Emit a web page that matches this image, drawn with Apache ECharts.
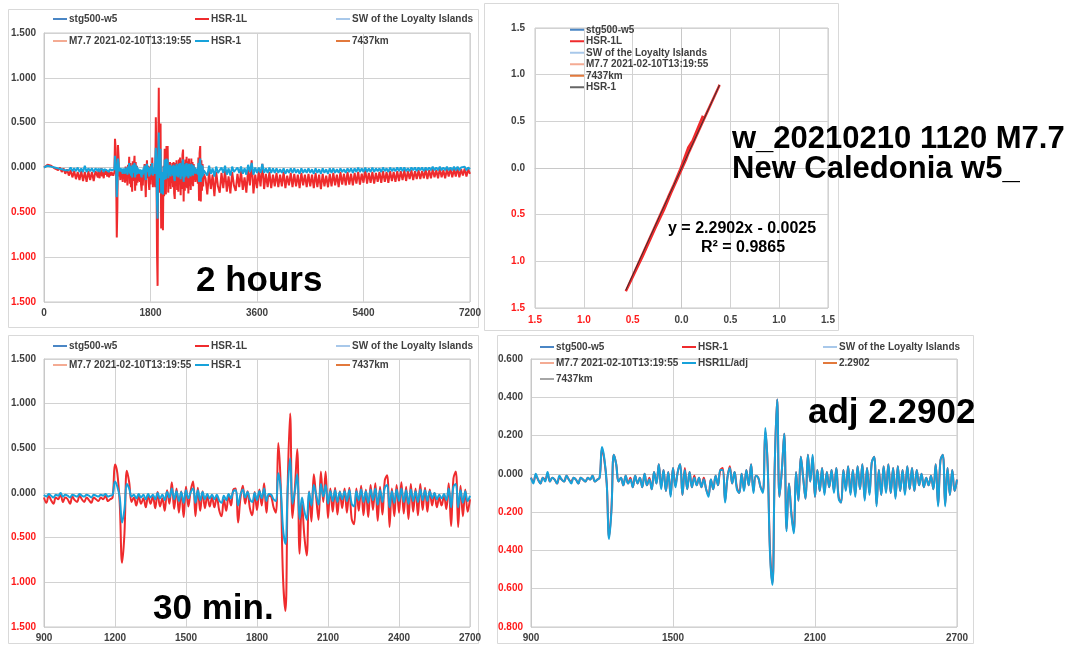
<!DOCTYPE html>
<html>
<head>
<meta charset="utf-8">
<title>w_20210210 1120 M7.7 New Caledonia</title>
<script src="https://cdn.jsdelivr.net/npm/echarts@6/dist/echarts.min.js"></script>
<style>
html, body { margin:0; padding:0; background:#fff; }
#quake-chart { width:1067px; height:646px; }
</style>
</head>
<body>
<div id="quake-chart"></div>
<script>
// 30 min window: 900 - 2700 s, one value every 10 s
var winStart = 900, winStep = 10;
var hsr1 = [
    -0.02,-0.04,-0.01,-0.03,-0.05,-0.02,-0.03,0.00,-0.04,-0.02,-0.03,-0.05,-0.02,-0.03,-0.04,-0.01,-0.03,-0.04,-0.02,-0.03,-0.05,-0.02,-0.03,-0.04,-0.02,-0.03,-0.01,-0.04,-0.03,-0.02,
    0.13,0.07,-0.05,-0.33,-0.18,0.10,0.05,-0.04,
    -0.02,-0.06,-0.01,-0.05,-0.02,-0.07,-0.01,-0.05,-0.02,-0.07,
    0.00,-0.06,-0.02,-0.08,0.01,-0.05,0.05,-0.07,0.02,-0.09,
    0.01,-0.11,0.03,-0.06,0.01,0.05,-0.11,0.03,-0.08,0.01,
    -0.07,-0.01,-0.06,-0.02,-0.07,-0.02,-0.08,-0.11,-0.03,-0.08,
    -0.01,-0.06,0.02,0.03,-0.14,-0.02,0.04,-0.05,0.01,-0.07,
    -0.10,0.00,-0.08,0.02,-0.06,0.05,-0.09,-0.01,
    -0.02,-0.07,-0.09,0.22,0.05,-0.40,-0.57,0.05,0.39,-0.12,0.02,0.21,-0.29,-0.05,-0.20,-0.30,0.01,-0.14,0.09,-0.02,-0.13,0.10,-0.04,0.09,-0.12,
    0.02,-0.09,0.03,-0.10,0.01,-0.07,0.02,-0.09,0.03,-0.12,
    -0.15,0.02,-0.08,0.04,-0.10,0.02,-0.11,0.04,-0.08,0.05,
    -0.13,0.03,-0.10,0.06,0.09,-0.16,0.02,-0.11,0.04,-0.09,
    0.05,-0.10,0.03,-0.12,0.04,-0.09,0.02,-0.10,0.04,-0.08,
    0.03,-0.09,0.02,-0.06,0.00,-0.07,-0.02,-0.06,-0.01,-0.08,
    0.05,-0.16,0.07,0.10,-0.16,0.03,-0.11,0.02,-0.09,-0.03
];
var hsr1L = [
    -0.05,-0.11,-0.03,-0.08,-0.12,-0.05,-0.07,-0.01,-0.10,-0.05,-0.07,-0.12,-0.04,-0.08,-0.10,-0.03,-0.07,-0.10,-0.05,-0.08,-0.11,-0.05,-0.07,-0.09,-0.05,-0.07,-0.03,-0.09,-0.07,-0.05,
    0.32,0.22,-0.12,-0.78,-0.45,0.25,0.12,-0.10,
    -0.05,-0.14,-0.03,-0.12,-0.06,-0.16,-0.02,-0.12,-0.04,-0.17,
    0.01,-0.15,-0.06,-0.20,0.03,-0.12,0.12,-0.18,0.05,-0.22,
    0.02,-0.27,0.07,-0.15,0.03,0.13,-0.26,0.06,-0.20,0.02,
    -0.17,-0.03,-0.15,-0.05,-0.16,-0.04,-0.19,-0.26,-0.07,-0.20,
    -0.03,-0.14,0.04,0.05,-0.33,-0.06,0.08,-0.12,0.02,-0.17,
    -0.25,0.01,-0.19,0.04,-0.14,0.11,-0.22,-0.03,
    -0.04,-0.16,-0.22,0.56,0.10,-0.95,-1.32,0.12,0.89,-0.28,0.05,0.49,-0.68,-0.12,-0.48,-0.70,0.02,-0.32,0.21,-0.05,-0.30,0.24,-0.10,0.24,-0.28,
    0.05,-0.21,0.06,-0.24,0.02,-0.17,0.05,-0.22,0.06,-0.29,
    -0.35,0.05,-0.20,0.08,-0.25,0.04,-0.27,0.09,-0.19,0.11,
    -0.31,0.07,-0.24,0.14,0.20,-0.38,0.05,-0.26,0.09,-0.22,
    0.12,-0.23,0.07,-0.29,0.10,-0.21,0.05,-0.25,0.10,-0.19,
    0.06,-0.21,0.04,-0.14,0.00,-0.16,-0.05,-0.14,-0.03,-0.18,
    0.11,-0.37,0.16,0.24,-0.38,0.08,-0.26,0.04,-0.21,-0.07
];
var hsr1LAdj = [
    -0.02,-0.05,0.00,-0.03,-0.05,-0.02,-0.04,0.01,-0.04,-0.02,-0.03,-0.05,-0.01,-0.03,-0.04,-0.01,-0.03,-0.05,-0.02,-0.03,-0.05,-0.02,-0.03,-0.04,-0.02,-0.03,-0.01,-0.04,-0.03,-0.02,
    0.14,0.08,-0.05,-0.34,-0.19,0.10,0.05,-0.04,
    -0.02,-0.06,-0.01,-0.05,-0.03,-0.07,-0.01,-0.05,-0.02,-0.07,
    0.00,-0.06,-0.03,-0.08,0.01,-0.05,0.05,-0.08,0.02,-0.09,
    0.01,-0.12,0.03,-0.07,0.01,0.05,-0.11,0.02,-0.08,0.01,
    -0.07,-0.02,-0.06,-0.02,-0.07,-0.03,-0.08,-0.12,-0.03,-0.08,
    -0.01,-0.06,0.02,0.02,-0.15,-0.02,0.03,-0.05,0.01,-0.08,
    -0.10,0.00,-0.09,0.02,-0.06,0.05,-0.10,-0.01,
    -0.02,-0.07,-0.10,0.24,0.04,-0.42,-0.58,0.05,0.39,-0.12,0.02,0.21,-0.30,-0.05,-0.21,-0.31,0.01,-0.14,0.09,-0.02,-0.13,0.10,-0.04,0.10,-0.12,
    0.02,-0.09,0.03,-0.11,0.01,-0.07,0.02,-0.10,0.03,-0.13,
    -0.15,0.02,-0.09,0.04,-0.11,0.02,-0.12,0.04,-0.08,0.05,
    -0.14,0.03,-0.11,0.06,0.09,-0.17,0.02,-0.11,0.04,-0.10,
    0.05,-0.10,0.03,-0.13,0.04,-0.09,0.02,-0.11,0.04,-0.08,
    0.03,-0.09,0.02,-0.06,0.00,-0.07,-0.02,-0.06,-0.01,-0.08,
    0.05,-0.17,0.07,0.10,-0.17,0.03,-0.11,0.02,-0.09,-0.03
];

// rest of the 2 hours, one value every 30 s
var preStart = 0, postStart = 2730, longStep = 30;
var hsr1Pre = [0.00,0.01,0.02,0.01,0.01,0.00,0.00,0.01,-0.01,0.00,-0.02,0.00,-0.03,-0.01,-0.03,0.00,-0.04,-0.01,-0.04,0.00,-0.05,-0.01,-0.05,0.02,-0.05,-0.01,-0.04,-0.01,-0.05,-0.01];
var hsr1LPre = [0.00,0.02,0.03,0.01,0.02,0.00,-0.01,0.01,-0.03,0.00,-0.05,-0.01,-0.07,-0.02,-0.09,-0.03,-0.11,-0.04,-0.13,-0.05,-0.14,-0.04,-0.15,-0.05,-0.16,-0.04,-0.14,-0.05,-0.15,-0.04];
var hsr1Post = [
    -0.02,-0.09,0.02,-0.07,-0.01,-0.10,0.01,-0.06,-0.08,0.00,
    -0.06,0.02,-0.08,-0.01,-0.09,0.01,-0.05,-0.07,0.00,-0.06,
    0.01,-0.07,-0.01,-0.08,0.03,-0.05,0.05,-0.08,0.00,-0.06,
    0.00,-0.06,0.04,-0.06,-0.01,-0.06,0.00,-0.06,-0.01,-0.06,
    -0.01,-0.06,-0.02,-0.06,-0.01,-0.07,-0.02,-0.06,-0.01,-0.06,
    -0.01,-0.06,-0.02,-0.07,-0.01,-0.06,-0.02,-0.06,-0.01,-0.06,
    -0.02,-0.07,-0.01,-0.06,-0.02,-0.07,-0.01,-0.06,-0.02,-0.07,
    -0.01,-0.06,-0.01,-0.06,-0.02,-0.06,-0.01,-0.05,-0.02,-0.06,
    -0.01,-0.05,-0.01,-0.06,-0.01,-0.05,0.00,-0.05,-0.01,-0.05,
    0.00,-0.05,-0.01,-0.05,0.00,-0.05,-0.01,-0.04,-0.01,-0.05,
    0.00,-0.04,-0.01,-0.05,0.00,-0.04,-0.01,-0.04,0.00,-0.04,
    0.00,-0.04,0.00,-0.04,-0.01,-0.04,0.00,-0.03,0.00,-0.04,
    0.00,-0.03,0.00,-0.04,0.00,-0.03,0.00,-0.03,0.01,-0.03,
    0.00,-0.03,0.01,-0.03,0.00,-0.03,0.01,-0.03,0.00,-0.03,
    0.01,-0.03,0.01,-0.03,0.00,-0.02,0.01,-0.03,0.00,-0.02
];
var hsr1LPost = [
    -0.12,-0.30,-0.04,-0.24,-0.08,-0.32,-0.05,-0.21,-0.28,-0.06,
    -0.23,-0.03,-0.27,-0.10,-0.29,-0.05,-0.20,-0.26,-0.07,-0.22,
    -0.04,-0.25,-0.11,-0.28,-0.02,-0.20,0.08,-0.29,-0.08,-0.23,
    -0.04,-0.21,0.04,-0.24,-0.07,-0.22,-0.05,-0.23,-0.08,-0.21,
    -0.06,-0.22,-0.08,-0.21,-0.05,-0.23,-0.09,-0.20,-0.06,-0.22,
    -0.07,-0.21,-0.08,-0.23,-0.06,-0.20,-0.08,-0.22,-0.07,-0.21,
    -0.08,-0.23,-0.06,-0.22,-0.08,-0.24,-0.07,-0.21,-0.09,-0.22,
    -0.07,-0.21,-0.06,-0.20,-0.08,-0.22,-0.05,-0.19,-0.07,-0.20,
    -0.05,-0.19,-0.07,-0.20,-0.06,-0.18,-0.05,-0.19,-0.07,-0.17,
    -0.02,-0.18,-0.06,-0.17,-0.05,-0.18,-0.06,-0.16,-0.05,-0.17,
    -0.04,-0.16,-0.05,-0.17,-0.04,-0.15,-0.05,-0.16,-0.04,-0.15,
    -0.04,-0.14,-0.03,-0.15,-0.04,-0.13,-0.03,-0.14,-0.04,-0.13,
    -0.03,-0.13,-0.04,-0.12,-0.02,-0.13,-0.03,-0.12,-0.02,-0.11,
    -0.03,-0.12,-0.01,-0.11,-0.03,-0.12,-0.02,-0.10,-0.01,-0.11,
    -0.02,-0.10,0.00,-0.11,-0.02,-0.09,-0.01,-0.10,-0.02,-0.07
];

// Excel trendline of HSR-1L against HSR-1
var trendSlope = 2.2902, trendIntercept = -0.0025;
var rSquared = 0.9865;

var RED = '#ef2b2d', BLUE = '#17a2da';
var FONT = '"Liberation Sans", Arial, sans-serif';

function toPairs(start, step, vals) {
    var out = [];
    for (var i = 0; i < vals.length; i++) out.push([start + i * step, vals[i]]);
    return out;
}

var redLong = toPairs(preStart, longStep, hsr1LPre).concat(toPairs(winStart, winStep, hsr1L), toPairs(postStart, longStep, hsr1LPost));
var blueLong = toPairs(preStart, longStep, hsr1Pre).concat(toPairs(winStart, winStep, hsr1), toPairs(postStart, longStep, hsr1Post));

var scatterPairs = [];
for (var i = 0; i < hsr1.length; i++) scatterPairs.push([hsr1[i], hsr1L[i]]);
var xLo = Math.min.apply(null, hsr1), xHi = Math.max.apply(null, hsr1);
var trendPairs = [[xLo, trendSlope * xLo + trendIntercept], [xHi, trendSlope * xHi + trendIntercept]];

// Excel style: negative numbers in red without the minus sign
function numFmt(digits) {
    return function (v) {
        var s = Math.abs(v).toFixed(digits);
        return v < -1e-9 ? '{neg|' + s + '}' : '{pos|' + s + '}';
    };
}
var labelRich = {
    pos: { color: '#404040', fontWeight: 'bold', fontSize: 10, fontFamily: FONT },
    neg: { color: '#ff1a1a', fontWeight: 'bold', fontSize: 10, fontFamily: FONT }
};

function axis(gridIndex, min, max, interval, digits, margin) {
    return {
        type: 'value', gridIndex: gridIndex, min: min, max: max, interval: interval,
        axisLine: { show: true, lineStyle: { color: '#c8c8c8' } },
        axisTick: { show: false },
        splitLine: { show: true, lineStyle: { color: '#d2d2d2', width: 1 } },
        axisLabel: { formatter: numFmt(digits), rich: labelRich, margin: margin, showMinLabel: true, showMaxLabel: true }
    };
}

function legendBlock(left, top, gap, lineH, items) {
    return {
        left: left, top: top, orient: 'vertical', padding: 0,
        itemGap: gap, itemWidth: 14, itemHeight: 2, icon: 'rect',
        selectedMode: false,
        textStyle: { fontSize: 10, fontWeight: 'bold', color: '#404040', fontFamily: FONT, lineHeight: lineH, padding: [0, 0, 0, -3] },
        data: items.map(function (it) { return { name: it[0], itemStyle: { color: it[1] } }; })
    };
}

function line(name, xi, yi, data, color, width, smooth, z) {
    return {
        name: name, type: 'line', xAxisIndex: xi, yAxisIndex: yi, data: data,
        showSymbol: false, symbol: 'none', smooth: smooth, z: z,
        lineStyle: { color: color, width: width }, itemStyle: { color: color }
    };
}

var chart = echarts.init(document.getElementById('quake-chart'));

var option = {
    animation: false,
    backgroundColor: '#fff',
    textStyle: { fontFamily: FONT },
    grid: [
        { left: 44, top: 33, width: 426, height: 269, show: true, borderColor: '#c8c8c8' },
        { left: 535, top: 28, width: 293, height: 280, show: true, borderColor: '#c8c8c8' },
        { left: 44, top: 359, width: 426, height: 268, show: true, borderColor: '#c8c8c8' },
        { left: 531, top: 359, width: 426, height: 268, show: true, borderColor: '#c8c8c8' }
    ],
    xAxis: [
        axis(0, 0, 7200, 1800, 0, 6),
        axis(1, -1.5, 1.5, 0.5, 1, 7),
        axis(2, 900, 2700, 300, 0, 6),
        axis(3, 900, 2700, 600, 0, 6)
    ],
    yAxis: [
        axis(0, -1.5, 1.5, 0.5, 3, 8),
        axis(1, -1.5, 1.5, 0.5, 1, 10),
        axis(2, -1.5, 1.5, 0.5, 3, 8),
        axis(3, -0.8, 0.6, 0.2, 3, 8)
    ],
    legend: [
        legendBlock(53, 13, 10, 12, [['stg500-w5', '#4a86c5'], ['M7.7 2021-02-10T13:19:55', '#f4ab93']]),
        legendBlock(195, 13, 10, 12, [['HSR-1L', RED], ['HSR-1', BLUE]]),
        legendBlock(336, 13, 10, 12, [['SW of the Loyalty Islands', '#a8c8ea'], ['7437km', '#e2793c']]),
        legendBlock(570, 24, 0, 11.5, [['stg500-w5', '#4a86c5'], ['HSR-1L', RED], ['SW of the Loyalty Islands', '#a8c8ea'],
            ['M7.7 2021-02-10T13:19:55', '#f4ab93'], ['7437km', '#e2793c'], ['HSR-1', '#666666']]),
        legendBlock(53, 340, 7, 12, [['stg500-w5', '#4a86c5'], ['M7.7 2021-02-10T13:19:55', '#f4ab93']]),
        legendBlock(195, 340, 7, 12, [['HSR-1L', RED], ['HSR-1', BLUE]]),
        legendBlock(336, 340, 7, 12, [['SW of the Loyalty Islands', '#a8c8ea'], ['7437km', '#e2793c']]),
        legendBlock(540, 341, 4, 12, [['stg500-w5', '#4a86c5'], ['M7.7 2021-02-10T13:19:55', '#f4ab93'], ['7437km', '#a6a6a6']]),
        legendBlock(682, 341, 4, 12, [['HSR-1', RED], ['HSR1L/adj', BLUE]]),
        legendBlock(823, 341, 4, 12, [['SW of the Loyalty Islands', '#a8c8ea'], ['2.2902', '#e2793c']])
    ],
    series: [
        line('stg500-w5', 0, 0, [], '#4a86c5', 2, false, 1),
        line('SW of the Loyalty Islands', 0, 0, [], '#a8c8ea', 2, false, 1),
        line('M7.7 2021-02-10T13:19:55', 0, 0, [], '#f4ab93', 2, false, 1),
        line('7437km', 0, 0, [], '#e2793c', 2, false, 1),
        line('2.2902', 0, 0, [], '#e2793c', 2, false, 1),
        // 2 hours
        line('HSR-1L', 0, 0, redLong, RED, 2, false, 2),
        line('HSR-1', 0, 0, blueLong, BLUE, 2, false, 3),
        // HSR-1 (x) against HSR-1L (y)
        line('HSR-1L', 1, 1, scatterPairs, RED, 2.5, false, 2),
        line('HSR-1', 1, 1, trendPairs, '#333333', 1, false, 3),
        // 30 min
        line('HSR-1L', 2, 2, toPairs(winStart, winStep, hsr1L), RED, 2, 0.4, 2),
        line('HSR-1', 2, 2, toPairs(winStart, winStep, hsr1), BLUE, 2, 0.4, 3),
        // adjusted
        line('HSR-1', 3, 3, toPairs(winStart, winStep, hsr1), RED, 2, 0.4, 2),
        line('HSR1L/adj', 3, 3, toPairs(winStart, winStep, hsr1LAdj), BLUE, 2, 0.4, 3)
    ],
    graphic: [
        { type: 'rect', silent: true, z: 0, shape: { x: 8.5, y: 9.5, width: 470, height: 318 }, style: { fill: 'none', stroke: '#d9d9d9', lineWidth: 1 } },
        { type: 'rect', silent: true, z: 0, shape: { x: 484.5, y: 3.5, width: 354, height: 327 }, style: { fill: 'none', stroke: '#d9d9d9', lineWidth: 1 } },
        { type: 'rect', silent: true, z: 0, shape: { x: 8.5, y: 335.5, width: 470, height: 308 }, style: { fill: 'none', stroke: '#d9d9d9', lineWidth: 1 } },
        { type: 'rect', silent: true, z: 0, shape: { x: 497.5, y: 335.5, width: 476, height: 308 }, style: { fill: 'none', stroke: '#d9d9d9', lineWidth: 1 } },
        { type: 'text', z: 100, style: { x: 196, y: 281, text: '2 hours', font: 'bold 35px ' + FONT, fill: '#000', verticalAlign: 'middle' } },
        { type: 'text', z: 100, style: { x: 153, y: 609, text: '30 min.', font: 'bold 35px ' + FONT, fill: '#000', verticalAlign: 'middle' } },
        { type: 'text', z: 100, style: { x: 808, y: 413, text: 'adj 2.2902', font: 'bold 35px ' + FONT, fill: '#000', verticalAlign: 'middle' } },
        { type: 'text', z: 100, style: { x: 732, y: 139, text: 'w_20210210 1120 M7.7', font: 'bold 31px ' + FONT, fill: '#000', verticalAlign: 'middle' } },
        { type: 'text', z: 100, style: { x: 732, y: 169, text: 'New Caledonia w5_', font: 'bold 31px ' + FONT, fill: '#000', verticalAlign: 'middle' } },
        { type: 'text', z: 100, style: { x: 668, y: 229, text: 'y = 2.2902x - 0.0025', font: 'bold 16px ' + FONT, fill: '#000', verticalAlign: 'middle' } },
        { type: 'text', z: 100, style: { x: 743, y: 248, text: 'R\u00b2 = ' + rSquared.toFixed(4), font: 'bold 16px ' + FONT, fill: '#000', align: 'center', verticalAlign: 'middle' } }
    ]
};

chart.setOption(option);
</script>
</body>
</html>
